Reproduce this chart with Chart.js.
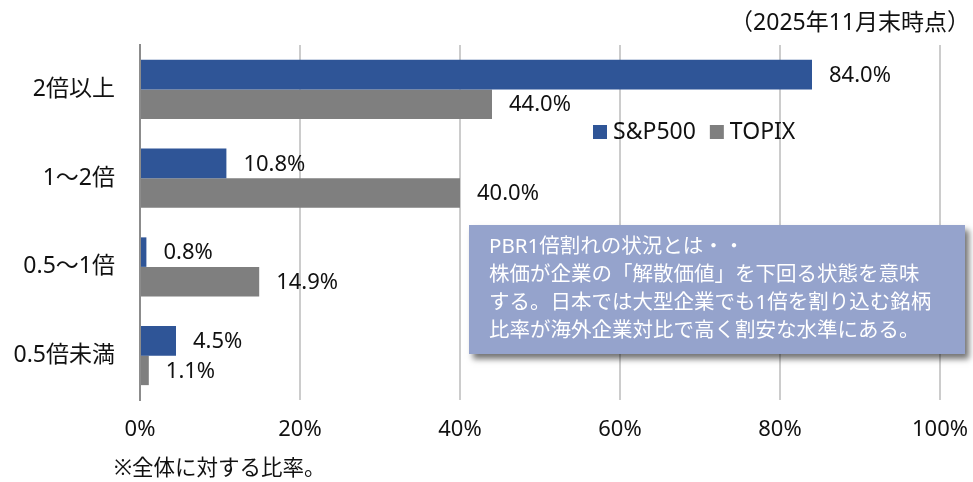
<!DOCTYPE html>
<html>
<head>
<meta charset="utf-8">
<script src="https://cdn.jsdelivr.net/npm/chart.js@4.4.1/dist/chart.umd.min.js"></script>
<style>
  html, body { margin: 0; padding: 0; background: #fff; }
  #wrap { width: 973px; height: 482px; }
</style>
</head>
<body>
<div id="wrap"><canvas id="barChart" width="973" height="482"></canvas></div>
<script>
// Data
const categories = ['2倍以上', '1～2倍', '0.5～1倍', '0.5倍未満'];
const spValues = [84.0, 10.8, 0.8, 4.5];
const topixValues = [44.0, 40.0, 14.9, 1.1];
const seriesNames = ['S&P500', 'TOPIX'];
const tickLabels = ['0%', '20%', '40%', '60%', '80%', '100%'];
const titleText = '（2025年11月末時点）';
const noteText = '※全体に対する比率。';
const boxLines = [
    'PBR1倍割れの状況とは・・',
    '株価が企業の「解散価値」を下回る状態を意味',
    'する。日本では大型企業でも1倍を割り込む銘柄',
    '比率が海外企業対比で高く割安な水準にある。'
];

const FONT = '"Noto Sans", "Noto Sans CJK JP", sans-serif';
const TEXT = '#111111';
const colors = ['#2F5597', '#7F7F7F'];

// labels, legend, box, title, note
const extras = {
    id: 'extras',
    afterDatasetsDraw(chart) {
        const ctx = chart.ctx;
        ctx.save();
        ctx.font = '22px ' + FONT;
        ctx.fillStyle = TEXT;
        ctx.textBaseline = 'middle';
        ctx.textAlign = 'left';
        chart.data.datasets.forEach((ds, i) => {
            chart.getDatasetMeta(i).data.forEach((bar, j) => {
                ctx.fillText(ds.data[j].toFixed(1) + '%', bar.x + 17, bar.y + 1);
            });
        });

        // legend
        let lx = 593;
        const ly = 132;
        ctx.font = '23px ' + FONT;
        chart.data.datasets.forEach((ds, i) => {
            ctx.fillStyle = ds.backgroundColor;
            ctx.fillRect(lx, ly - 7, 14, 14);
            ctx.fillStyle = TEXT;
            ctx.fillText(ds.label, lx + 20, ly);
            lx += 20 + ctx.measureText(ds.label).width + 14;
        });

        // note box
        ctx.save();
        ctx.shadowColor = 'rgba(0,0,0,0.55)';
        ctx.shadowBlur = 6;
        ctx.shadowOffsetX = 4;
        ctx.shadowOffsetY = 5;
        ctx.fillStyle = '#95A3CC';
        ctx.fillRect(469, 225, 496, 129);
        ctx.restore();
        ctx.fillStyle = '#ffffff';
        ctx.font = '20.5px ' + FONT;
        boxLines.forEach((t, k) => {
            ctx.fillText(t, 489, 247 + k * 28);
        });

        // title + footnote
        ctx.fillStyle = TEXT;
        ctx.font = '23px ' + FONT;
        ctx.textAlign = 'right';
        ctx.fillText(titleText, 970, 23);
        ctx.font = '21.5px ' + FONT;
        ctx.textAlign = 'left';
        ctx.fillText(noteText, 114, 469);
        ctx.restore();
    }
};

const ctx = document.getElementById('barChart').getContext('2d');
const barChart = new Chart(ctx, {
    type: 'bar',
    data: {
        labels: categories,
        datasets: [
            { label: seriesNames[0], data: spValues, backgroundColor: colors[0] },
            { label: seriesNames[1], data: topixValues, backgroundColor: colors[1] }
        ]
    },
    options: {
        indexAxis: 'y',
        responsive: false,
        animation: false,
        maintainAspectRatio: false,
        categoryPercentage: 0.665,
        barPercentage: 1.0,
        layout: { padding: { top: 45, right: 33, left: 0, bottom: 0 } },
        plugins: {
            legend: { display: false },
            tooltip: { enabled: false }
        },
        scales: {
            x: {
                min: 0,
                max: 100,
                afterFit: s => { s.height = 82; s.paddingRight = 0; s.paddingLeft = 0; },
                ticks: {
                    stepSize: 20,
                    padding: 17,
                    color: TEXT,
                    font: { family: FONT, size: 22 },
                    callback: (v, i) => tickLabels[i]
                },
                grid: { color: '#cccccc', lineWidth: 2, drawTicks: false },
                border: { display: false }
            },
            y: {
                ticks: {
                    padding: 25,
                    color: TEXT,
                    font: { family: FONT, size: 23 }
                },
                grid: { display: false, drawTicks: false },
                border: { color: '#8c8c8c', width: 2 },
                afterFit: s => { s.width = 140; }
            }
        }
    },
    plugins: [extras]
});
</script>
</body>
</html>
